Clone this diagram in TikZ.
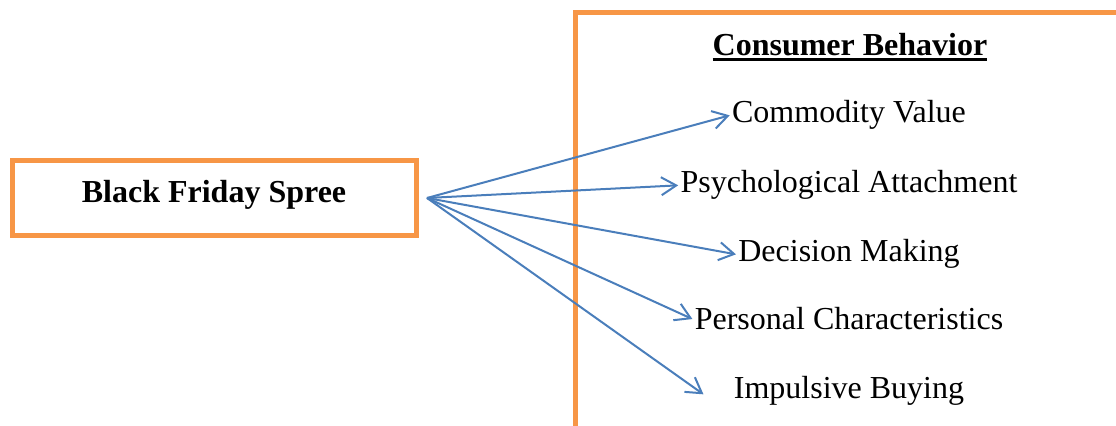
\documentclass[tikz,border=0pt]{standalone}
\usepackage{fontspec}
\setmainfont{Liberation Serif}
\usetikzlibrary{arrows.meta}
\definecolor{boxorange}{HTML}{F79646}
\definecolor{arrowblue}{HTML}{4A7EBB}
\newcommand{\ulthick}[1]{\vtop{\hbox{#1}\kern1pt\hrule height1.5pt}}
\begin{document}
\begin{tikzpicture}[x=0.5pt,y=-0.5pt,
  frame/.style={draw=boxorange,line width=2.5pt},
  item/.style={anchor=base,inner sep=1pt,font=\fontsize{16}{19}\selectfont},
  link/.style={draw=arrowblue,line width=1pt,-{Straight Barb[length=7.5pt,width=9pt,line width=1pt]}}]
\useasboundingbox (0,0) rectangle (1116,426);
% left box
\draw[frame] (12,161) rectangle (416,236);
\node[item,font=\fontsize{16}{19}\selectfont\bfseries] (spree) at (214,203) {Black Friday Spree};
\coordinate (src) at (427,198);
% right frame
\draw[frame] (575,426)--(575,12.5)--(1116,12.5);
\node[item,font=\fontsize{16}{19}\selectfont\bfseries] (cb) at (850,56) {\ulthick{Consumer Behavior}};
\node[item] (cv) at (849,123) {Commodity Value};
\node[item] (pa) at (849,193) {Psychological Attachment};
\node[item] (dm) at (849,262) {Decision Making};
\node[item] (pc) at (849,330) {Personal Characteristics};
\node[item] (ib) at (849,399) {Impulsive Buying};
% arrows
\draw[link] (src) -- (cv.west);
\draw[link] (src) -- (pa.west);
\draw[link] (src) -- (dm.west);
\draw[link] (src) -- (pc.west);
\draw[link] (src) -- ([xshift=-14pt,yshift=-1.5pt]ib.west);
\end{tikzpicture}
\end{document}
